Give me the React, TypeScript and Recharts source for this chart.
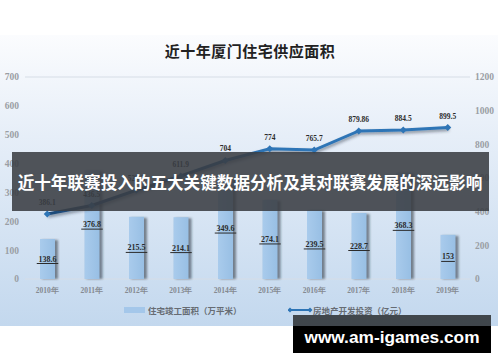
import { ComposedChart, Bar, Line, XAxis, YAxis, CartesianGrid, LabelList } from 'recharts';

const years = ['2010年', '2011年', '2012年', '2013年', '2014年', '2015年', '2016年', '2017年', '2018年', '2019年'];
const completedArea = [138.6, 376.8, 215.5, 214.1, 349.6, 274.1, 239.5, 228.7, 368.3, 153];
const investment = [386.1, 436.5, 527.3, 611.9, 704, 774, 765.7, 879.86, 884.5, 899.5];
const areaTicks = [0, 100, 200, 300, 400, 500, 600, 700];
const investTicks = [0, 200, 400, 600, 800, 1000, 1200];

const data = years.map((year, i) => ({ year, area: completedArea[i], invest: investment[i] }));

const serif = '"Liberation Serif", "DejaVu Serif", serif';
const cjk = '"Noto Sans CJK SC", sans-serif';

const BarWithShadow = (props: any) => {
  const { x, y, width, height } = props;
  if (!height || height <= 0) return null;
  return (
    <g>
      <rect x={x + 2} y={y + 1} width={width + 1} height={height - 1} fill="rgba(40,50,60,0.55)" filter="url(#barShadow)" />
      <rect x={x} y={y} width={width} height={height} fill="url(#barFill)" />
    </g>
  );
};

const AreaLabel = (props: any) => {
  const { x, y, width, height, value } = props;
  const cx = x + width / 2;
  const cy = y + height / 2;
  const w = String(value).length * 3.9 + 2;
  return (
    <g>
      <text x={cx} y={cy} textAnchor="middle" dominantBaseline="central" fontFamily={serif} fontWeight="bold" fontSize={8} fill="#2b2b2b">
        {value}
      </text>
      <line x1={cx - w / 2} x2={cx + w / 2} y1={cy + 4.5} y2={cy + 4.5} stroke="#2b2b2b" strokeWidth={1} />
    </g>
  );
};

const Diamond = (props: any) => {
  const { cx, cy } = props;
  if (cx == null || cy == null) return null;
  return <path d={`M${cx},${cy - 3.5} L${cx + 3.5},${cy} L${cx},${cy + 3.5} L${cx - 3.5},${cy} Z`} fill="#2e75b6" />;
};

export default function App() {
  return (
    <div style={{ position: 'absolute', left: 0, top: 0, width: 500, height: 362, background: '#fff', overflow: 'hidden' }}>
      <div
        style={{
          position: 'absolute', left: 0, top: 35, width: 498, height: 291,
          background: 'linear-gradient(180deg, #fbfcfe 0%, #e6eef8 35%, #c3d8ee 100%)',
        }}
      />
      <div
        style={{
          position: 'absolute', left: 0, top: 40, width: 500, textAlign: 'center',
          fontFamily: cjk, fontWeight: 700, fontSize: 15, color: '#222', letterSpacing: 0.5,
        }}
      >
        近十年厦门住宅供应面积
      </div>
      <div style={{ position: 'absolute', left: 0, top: 0 }}>
        <ComposedChart width={500} height={362} data={data} margin={{ top: 77, right: 0, bottom: 53, left: 0 }}>
          <defs>
            <linearGradient id="barFill" x1="0" y1="0" x2="1" y2="0">
              <stop offset="0%" stopColor="#a9cbec" />
              <stop offset="100%" stopColor="#98bfe4" />
            </linearGradient>
            <linearGradient id="lineStroke" x1="0" y1="0" x2="1" y2="0">
              <stop offset="0%" stopColor="#1f4a78" />
              <stop offset="35%" stopColor="#24578c" />
              <stop offset="55%" stopColor="#2e75b6" />
              <stop offset="100%" stopColor="#2e75b6" />
            </linearGradient>
            <filter id="barShadow" x="-50%" y="-10%" width="200%" height="120%">
              <feGaussianBlur stdDeviation="1.2" />
            </filter>
            <filter id="lineShadow" x="-10%" y="-30%" width="120%" height="160%">
              <feDropShadow dx="1" dy="2" stdDeviation="1.5" floodColor="#1a2a3a" floodOpacity="0.5" />
            </filter>
          </defs>
          <CartesianGrid vertical={false} stroke="#d6dde6" strokeWidth={1} />
          <XAxis
            dataKey="year"
            height={30}
            axisLine={false}
            tickLine={false}
            tickSize={0}
            tickMargin={9}
            tick={{ fontFamily: serif, fontWeight: 'bold', fontSize: 7.5, fill: '#858a90' }}
            interval={0}
          />
          <YAxis
            yAxisId="left"
            domain={[0, 700]}
            ticks={areaTicks}
            width={25}
            axisLine={false}
            tickLine={false}
            tickSize={0}
            tickMargin={6}
            tick={{ fontFamily: serif, fontWeight: 'bold', fontSize: 9.5, fill: '#9a9ea4' }}
          />
          <YAxis
            yAxisId="right"
            orientation="right"
            domain={[0, 1200]}
            ticks={investTicks}
            width={30}
            axisLine={false}
            tickLine={false}
            tickSize={0}
            tickMargin={5}
            tick={{ fontFamily: serif, fontWeight: 'bold', fontSize: 9.5, fill: '#9a9ea4' }}
          />
          <Bar yAxisId="left" dataKey="area" barSize={15} shape={BarWithShadow} isAnimationActive={false}>
            <LabelList dataKey="area" content={AreaLabel} />
          </Bar>
          <Line
            yAxisId="right"
            dataKey="invest"
            stroke="url(#lineStroke)"
            strokeWidth={3}
            dot={Diamond}
            activeDot={false}
            filter="url(#lineShadow)"
            isAnimationActive={false}
          >
            <LabelList
              dataKey="invest"
              position="top"
              offset={9}
              style={{ fontFamily: serif, fontWeight: 'bold', fontSize: 7.5, fill: '#2b2b2b' }}
            />
          </Line>
        </ComposedChart>
      </div>
      {/* legend */}
      <div style={{ position: 'absolute', left: 124, top: 303, height: 14, display: 'flex', alignItems: 'center', fontFamily: cjk, fontWeight: 700, fontSize: 8.5, color: '#676c73' }}>
        <span style={{ display: 'inline-block', width: 21, height: 6, background: '#a4c7ea', marginRight: 3 }} />
        <span>住宅竣工面积（万平米）</span>
      </div>
      <div style={{ position: 'absolute', left: 288, top: 303, height: 14, display: 'flex', alignItems: 'center', fontFamily: cjk, fontWeight: 700, fontSize: 8.5, color: '#676c73' }}>
        <svg width={25} height={8}>
          <line x1={2} x2={23} y1={4} y2={4} stroke="#2e75b6" strokeWidth={2} />
          <path d="M2,1.5 L4.5,4 L2,6.5 L-0.5,4 Z" fill="#2e75b6" />
          <path d="M22,1.5 L24.5,4 L22,6.5 L19.5,4 Z" fill="#2e75b6" />
        </svg>
        <span>房地产开发投资（亿元）</span>
      </div>
      {/* overlay banner */}
      <div style={{ position: 'absolute', left: 12, top: 152, width: 477, height: 59, background: 'rgba(58,62,67,0.88)' }} />
      <div
        style={{
          position: 'absolute', left: 0, top: 170, width: 500, textAlign: 'center', whiteSpace: 'nowrap',
          fontFamily: cjk, fontWeight: 700, fontSize: 16.6, lineHeight: '24px', color: '#fff',
        }}
      >
        近十年联赛投入的五大关键数据分析及其对联赛发展的深远影响
      </div>
      {/* site badge */}
      <div style={{ position: 'absolute', left: 293, top: 315, width: 198, height: 11, background: 'rgba(50,54,58,0.9)' }} />
      <div style={{ position: 'absolute', left: 293, top: 326, width: 198, height: 27, background: '#000' }} />
      <div
        style={{
          position: 'absolute', left: 293, top: 326, width: 198, textAlign: 'center', whiteSpace: 'nowrap',
          color: '#fff', fontFamily: '"Liberation Sans", Arial, sans-serif', fontWeight: 700, fontSize: 17.3, lineHeight: '22px',
        }}
      >
        www.am-igames.com
      </div>
    </div>
  );
}
